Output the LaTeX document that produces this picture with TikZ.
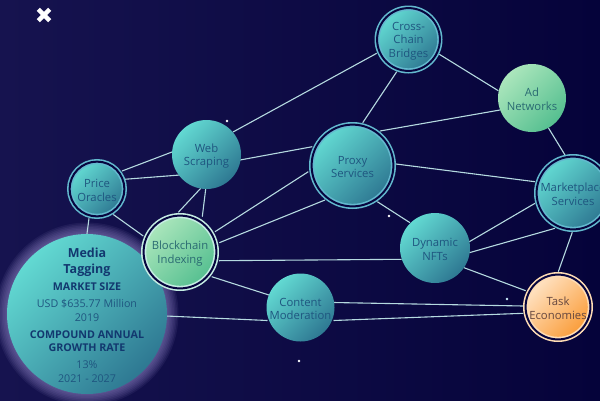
\documentclass[tikz,border=0pt]{standalone}
\usepackage{fontspec}
\setmainfont{Open Sans}
\usetikzlibrary{calc}
\definecolor{tealA}{HTML}{62D9D2}
\definecolor{tealB}{HTML}{2E7892}
\definecolor{greenA}{HTML}{ABE6BC}
\definecolor{greenB}{HTML}{55BF90}
\definecolor{orA}{HTML}{FFE3C4}
\definecolor{orB}{HTML}{FA9C38}
\definecolor{bgA}{HTML}{16134F}
\definecolor{bgB}{HTML}{05033A}
\definecolor{dark}{HTML}{07053F}
\definecolor{linec}{HTML}{B5DAE0}
\definecolor{tealT}{HTML}{1F5680}
\definecolor{greenT}{HTML}{2A6A72}
\definecolor{orT}{HTML}{64463F}
\definecolor{headT}{HTML}{12386F}
\definecolor{ringT}{HTML}{63B9CE}
\definecolor{ringG}{HTML}{C5EDE3}
\definecolor{ringO}{HTML}{FFDDB5}
\definecolor{glowc}{HTML}{9A8FD0}
\newcommand\mhA{\color{headT}\bfseries\fontsize{12.5}{13.5}\selectfont}
\newcommand\mhB{\color{headT}\bfseries\fontsize{10.7}{13.5}\selectfont}
\newcommand\mtC{\color{tealT}\mdseries\fontsize{10.7}{13.5}\selectfont}
\newcommand\lift{\rule{0pt}{11.5pt}}
\tikzset{
  edge/.style={draw=linec,line width=1.1pt},
  bub/.style={circle,inner sep=-20pt,align=center,text=tealT,minimum size=#1,
    font=\fontsize{11.3}{13.5}\selectfont,shade,top color=tealA,bottom color=tealB,shading angle=45},
  grn/.style={top color=greenA,bottom color=greenB,shading angle=45,text=greenT},
  org/.style={top color=orA,bottom color=orB,shading angle=45,text=orT},
  ring/.style={draw=#1,double=dark,line width=1.6pt,double distance=2pt}
}
\begin{document}
\begin{tikzpicture}[x=1pt,y=-1pt]
\useasboundingbox (0,0) rectangle (600,400);
\shade[left color=bgA,right color=bgB] (0,0) rectangle (600,400);
% glow
\foreach \r in {81,82.5,...,92}{
  \fill[fill=glowc,opacity=0.09] (87,314) circle (\r);
}
% stars
\fill[white] (227,121) circle (1.4);
\fill[white] (389,216) circle (1.4);
\fill[white] (299,361) circle (1.4);
\fill[white!80!cyan] (507,299) circle (1.4);
% close mark
\draw[white,line width=4.4pt] (38.3,9.3) -- (49.7,20.7);
\draw[white,line width=4.4pt] (49.7,9.3) -- (38.3,20.7);
% positions
\coordinate (cross) at (408.5,39.5);
\coordinate (ad) at (532,98);
\coordinate (proxy) at (352.5,165.5);
\coordinate (market) at (573,193);
\coordinate (nft) at (435,248);
\coordinate (task) at (558,307);
\coordinate (web) at (206.5,154.5);
\coordinate (price) at (97,189);
\coordinate (block) at (180,252);
\coordinate (content) at (300.5,307.5);
\coordinate (media) at (87,314);
% connectors
\newcommand\lnk[4]{\draw[edge] ($(#1)+(#2)$) -- ($(#3)+(#4)$);}
\lnk{web}{26.5,-22.5}{cross}{-31.8,13.8}
\lnk{cross}{-11.8,32.2}{proxy}{10.2,-42.8}
\lnk{cross}{30.8,14.8}{ad}{-33.7,-7.3}
\lnk{ad}{-32,12}{proxy}{27.5,-34.5}
\lnk{ad}{16.3,29.7}{market}{-8,-38}
\lnk{proxy}{43.5,-1.5}{market}{-38,-11.3}
\lnk{proxy}{24.8,36.2}{nft}{-25,-25.3}
\lnk{proxy}{-40.2,-18.8}{web}{33.5,5.5}
\lnk{proxy}{-44.2,6.2}{block}{35,-20.3}
\lnk{proxy}{-27.5,34.5}{block}{39.3,-9.3}
\lnk{block}{39,8.7}{nft}{-33.3,11.3}
\lnk{block}{31.7,24.7}{content}{-30,-12}
\lnk{web}{-5.8,33.8}{block}{-1.7,-39.7}
\lnk{web}{-0.8,34.5}{block}{22.3,-35.3}
\lnk{price}{16.3,25.5}{block}{-36.7,-16}
\lnk{price}{-8,29.3}{media}{-0.3,-78}
\lnk{media}{79,2}{content}{-33,13}
\lnk{content}{33,-5}{task}{-34.7,-1}
\lnk{content}{33,13}{task}{-34.7,6.3}
\lnk{nft}{34.3,-6.3}{market}{-38,10.3}
\lnk{nft}{34.3,4.7}{market}{-18,35.3}
\lnk{nft}{29,19.7}{task}{-32.3,-16.3}
\lnk{market}{-0.7,39.3}{task}{0.3,-35.3}
\lnk{price}{25,-18}{web}{-34.5,-2.5}
\lnk{price}{27.3,-9.7}{web}{-26.5,20.5}
% bubbles
\node[bub=62.8pt,ring=ringT] (ncross) at (cross) {\lift Cross-\\Chain\\Bridges};
\node[bub=68pt,grn] (nad) at (ad) {\lift Ad\\Networks};
\node[bub=81.8pt,ring=ringT] (nproxy) at (proxy) {\lift Proxy\\Services};
\node[bub=72.8pt,ring=ringT] (nmarket) at (market) {\lift Marketplace\\Services};
\node[bub=70pt] (nnft) at (nft) {\lift Dynamic\\NFTs};
\node[bub=64.8pt,org,ring=ringO] (ntask) at (task) {\lift Task\\Economies};
\node[bub=69pt] (nweb) at (web) {\lift Web\\Scraping};
\node[bub=54.8pt,ring=ringT] (nprice) at (price) {\lift Price\\Oracles};
\node[bub=68pt] (ncontent) at (content) {\lift Content\\Moderation};
\node[bub=160pt] (nmedia) at (media) {\mhA\lift Media\\[3pt]\mhA Tagging\\[3.5pt]\mhB MARKET SIZE\\[3.5pt]\mtC USD \$635.77 Million\\\mtC 2019\\[3.5pt]\mhB COMPOUND ANNUAL\\\mhB GROWTH RATE\\[3.5pt]\mtC 13\%\\\mtC 2021 - 2027};
\node[bub=72.8pt,grn,ring=ringG] (nblock) at (block) {\lift Blockchain\\Indexing};
\end{tikzpicture}
\end{document}
